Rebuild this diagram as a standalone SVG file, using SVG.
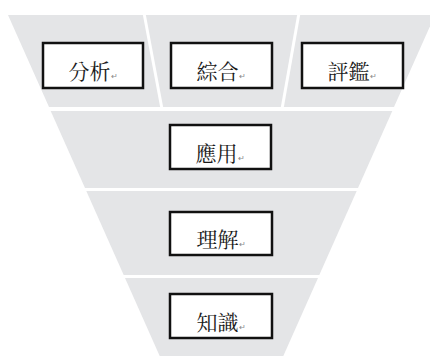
<svg xmlns="http://www.w3.org/2000/svg" width="430" height="356" viewBox="0 0 430 356">
<style>
.band{fill:#e4e5e7}
.div{stroke:#ffffff;stroke-width:3}
.box{fill:#ffffff;stroke:#111111;stroke-width:2.5}
.lbl{font-family:"Noto Serif CJK TC","Liberation Serif","Noto Sans CJK TC",serif;font-size:21px;fill:#1a1a1a;text-anchor:middle}
.mk{font-size:8px;fill:#888888}
</style>
<rect width="430" height="356" fill="#ffffff"/>
<g id="funnel">
<polygon class="band" points="8,15 435,15 394,107 49,107"/>
<polygon class="band" points="50.7,111 392.3,111 358,188 85,188"/>
<polygon class="band" points="86.3,191 356.7,191 319.3,275 123.7,275"/>
<polygon class="band" points="125,278 318,278 283.3,356 159.7,356"/>
<line class="div" x1="144" y1="13" x2="162" y2="109"/>
<line class="div" x1="299" y1="13" x2="282" y2="109"/>
</g>
<g id="connectors"/>
<g id="n-analysis"><rect class="box" x="43" y="43" width="100" height="45"/><text class="lbl" x="93" y="79">分析<tspan class="mk">↵</tspan></text></g>
<g id="n-synthesis"><rect class="box" x="171" y="43" width="101" height="45"/><text class="lbl" x="221" y="79">綜合<tspan class="mk">↵</tspan></text></g>
<g id="n-evaluation"><rect class="box" x="302" y="43" width="101" height="45"/><text class="lbl" x="352" y="79">評鑑<tspan class="mk">↵</tspan></text></g>
<g id="n-application"><rect class="box" x="170" y="125" width="101" height="44"/><text class="lbl" x="220" y="161">應用<tspan class="mk">↵</tspan></text></g>
<g id="n-comprehension"><rect class="box" x="170" y="212" width="102" height="43"/><text class="lbl" x="221" y="247">理解<tspan class="mk">↵</tspan></text></g>
<g id="n-knowledge"><rect class="box" x="170" y="294" width="102" height="44"/><text class="lbl" x="221" y="330">知識<tspan class="mk">↵</tspan></text></g>
</svg>
